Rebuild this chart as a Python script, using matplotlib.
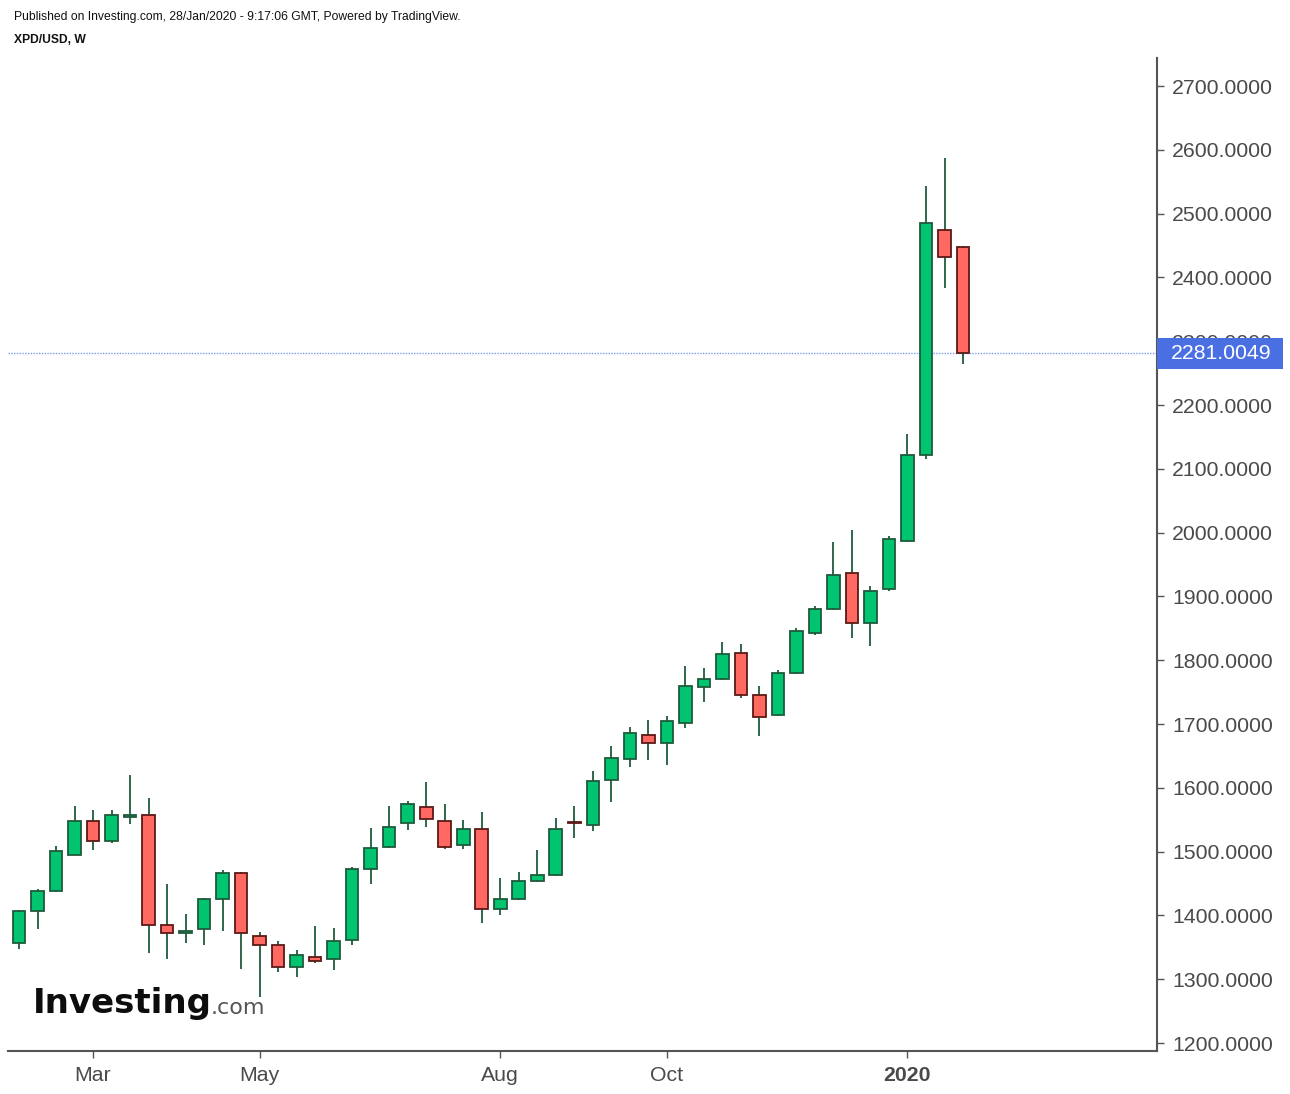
import matplotlib
matplotlib.use("Agg")
import matplotlib.pyplot as plt
from matplotlib.patches import Rectangle
import numpy as np
import pandas as pd

# ---- data (weekly XPD/USD candles) ----
dates = pd.date_range("2019-02-04", periods=52, freq="7D")
opens = [1357, 1407, 1438, 1495, 1548, 1516, 1554, 1558, 1385, 1373, 1379, 1426, 1467,
         1367, 1354, 1319, 1335, 1331, 1361, 1472, 1507, 1545, 1570, 1548, 1510, 1536,
         1410, 1425, 1454, 1463, 1546, 1541, 1613, 1645, 1683, 1670, 1701, 1758, 1770,
         1812, 1746, 1714, 1780, 1842, 1880, 1937, 1858, 1911, 1987, 2122, 2474, 2448]
highs = [1408, 1442, 1509, 1571, 1565, 1565, 1620, 1584, 1449, 1402, 1427, 1471, 1468,
         1374, 1360, 1346, 1383, 1380, 1476, 1537, 1571, 1580, 1609, 1574, 1549, 1562,
         1458, 1468, 1502, 1552, 1571, 1627, 1665, 1696, 1706, 1712, 1791, 1788, 1829,
         1825, 1759, 1784, 1850, 1885, 1985, 2004, 1916, 1995, 2154, 2543, 2587, 2449]
lows = [1347, 1378, 1437, 1494, 1502, 1513, 1544, 1341, 1331, 1357, 1353, 1375, 1316,
        1272, 1312, 1303, 1325, 1314, 1354, 1450, 1506, 1534, 1538, 1504, 1504, 1388,
        1400, 1424, 1453, 1462, 1522, 1532, 1578, 1632, 1644, 1635, 1694, 1735, 1769,
        1741, 1682, 1713, 1779, 1839, 1879, 1835, 1823, 1908, 1986, 2115, 2384, 2265]
closes = [1407, 1439, 1501, 1548, 1516, 1558, 1558, 1385, 1372, 1376, 1426, 1467, 1372,
          1354, 1319, 1338, 1329, 1360, 1473, 1505, 1539, 1574, 1551, 1507, 1536, 1410,
          1426, 1454, 1464, 1536, 1545, 1611, 1646, 1686, 1670, 1705, 1759, 1771, 1809,
          1745, 1711, 1780, 1846, 1881, 1934, 1858, 1909, 1990, 2122, 2486, 2432, 2281.0049]
last_price = 2281.0049
ytick_values = [1200, 1300, 1400, 1500, 1600, 1700, 1800, 1900, 2000, 2100, 2200, 2300,
                2400, 2500, 2600, 2700]
month_ticks = {"2019-03-04": "Mar", "2019-05-06": "May", "2019-08-05": "Aug",
               "2019-10-07": "Oct", "2020-01-06": "2020"}

# ---- styling ----
W, H = 1290, 1094
fig = plt.figure(figsize=(W / 100, H / 100), dpi=100)
ax_left, ax_right, ax_top, ax_bot = 8, 1157, 58, 1051
ax = fig.add_axes([ax_left / W, 1 - ax_bot / H, (ax_right - ax_left) / W, (ax_bot - ax_top) / H])

up_fill, up_edge = "#00C46F", "#1F5A3B"
dn_fill, dn_edge = "#FF6961", "#5B1A16"
wick_col = "#1F5A3B"

x = np.arange(len(dates))
o = np.array(opens, float)
c = np.array(closes, float)
hi = np.array(highs, float)
lo = np.array(lows, float)
up = c >= o

ax.vlines(x, lo, hi, color=wick_col, linewidth=1.3, zorder=2)
bottoms = np.minimum(o, c)
heights = np.maximum(np.abs(c - o), 0.8)
ax.bar(x[up], heights[up], bottom=bottoms[up], width=0.68, color=up_fill,
       edgecolor=up_edge, linewidth=1.3, zorder=3)
ax.bar(x[~up], heights[~up], bottom=bottoms[~up], width=0.68, color=dn_fill,
       edgecolor=dn_edge, linewidth=1.3, zorder=3)

# last price line
ax.axhline(last_price, color="#7E9CEB", linewidth=1.0, linestyle=(0, (1, 1)), zorder=1)

ymin, ymax = 1187.5, 2743.9
ax.set_xlim(-0.594, 61.48)
ax.set_ylim(ymin, ymax)

# axes styling
for s in ["left", "top"]:
    ax.spines[s].set_visible(False)
for s in ["right", "bottom"]:
    ax.spines[s].set_color("#555555")
    ax.spines[s].set_linewidth(1.5)

ax.yaxis.tick_right()
ax.set_yticks(ytick_values)
ax.set_yticklabels([f"{v:.4f}" for v in ytick_values])
ax.tick_params(axis="y", length=5, width=1, color="#555555", pad=6,
               labelsize=15.3, labelcolor="#4a4a4a")

pos = [int(np.where(dates == pd.Timestamp(d))[0][0]) for d in month_ticks]
ax.set_xticks(pos)
ax.set_xticklabels(list(month_ticks.values()))
ax.tick_params(axis="x", length=5, width=1, color="#555555", pad=6,
               labelsize=15.3, labelcolor="#4a4a4a")
for lab in ax.get_xticklabels():
    lab.set_fontfamily("Liberation Sans")
    if lab.get_text() == "2020":
        lab.set_fontweight("bold")
for lab in ax.get_yticklabels():
    lab.set_fontfamily("Liberation Sans")

# price label box (figure coordinates, drawn above the tick labels)
price_y_px = ax_top + (ymax - last_price) / (ymax - ymin) * (ax_bot - ax_top)
box_h = 31
fig.patches.append(Rectangle((ax_right / W, 1 - (price_y_px + box_h / 2) / H),
                             (1283 - ax_right) / W, box_h / H,
                             transform=fig.transFigure, facecolor="#4A6FE3",
                             edgecolor="none", zorder=5))
fig.text(1171 / W, 1 - price_y_px / H, f"{last_price:.4f}", ha="left", va="center",
         color="white", fontsize=15.3, family="Liberation Sans", zorder=6)

# header texts
fig.text(14 / W, 1 - 17 / H, "Published on Investing.com, 28/Jan/2020 - 9:17:06 GMT, Powered by TradingView.",
         ha="left", va="center", fontsize=8.7, family="Liberation Sans", color="#111111")
fig.text(14 / W, 1 - 40 / H, "XPD/USD, W", ha="left", va="center", fontsize=8.7,
         family="Liberation Sans", fontweight="bold", color="#111111")

# watermark logo
fig.text(33 / W, 1 - 1003 / H, "Investing", ha="left", va="center", fontsize=24.5,
         family="DejaVu Sans", fontweight="bold", color="#0d0d0d")
fig.text(211 / W, 1 - 1008 / H, ".com", ha="left", va="center", fontsize=16,
         family="DejaVu Sans", color="#555555")

fig.savefig("out.png", dpi=100)
